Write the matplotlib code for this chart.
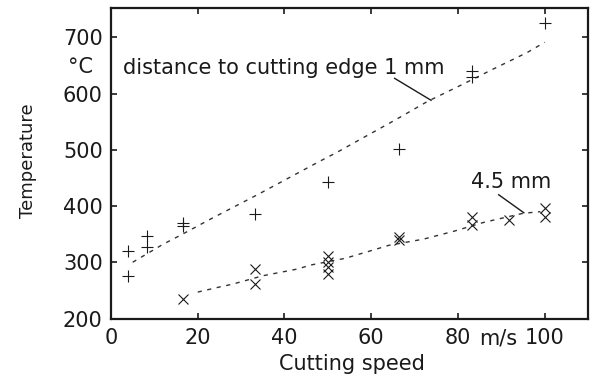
import matplotlib
matplotlib.use("Agg")
import matplotlib.pyplot as plt

plt.rcParams['font.family'] = ['DejaVu Sans']

# Measured temperatures, 1 mm from the cutting edge
speed_1mm = [4, 4, 8.3, 8.3, 16.6, 16.6, 33.3, 50, 66.5, 83.3, 83.3, 100]
temp_1mm = [320, 275, 346, 327, 370, 364, 385, 442, 502, 640, 630, 725]

# Measured temperatures, 4.5 mm from the cutting edge
speed_45mm = [16.6, 33.3, 33.3, 50, 50, 50, 50, 66.5, 66.5, 83.3, 83.3, 91.7, 100, 100]
temp_45mm = [234, 288, 262, 312, 300, 291, 280, 345, 339, 380, 366, 376, 396, 381]

# Trend curves
trend_1mm_x = [5, 12, 16, 23, 30, 34, 41, 48, 52, 66, 73, 81, 88, 96, 100]
trend_1mm_y = [300, 332, 348, 377, 405, 421, 450, 479, 495, 555, 586, 616, 643, 673, 691]
trend_45mm_x = [20, 25, 28, 35, 43, 46, 54, 61, 64, 72, 79, 86, 95, 99]
trend_45mm_y = [247, 256, 261, 276, 288, 295, 307, 323, 330, 341, 355, 371, 387, 390]

x_ticks = [0, 20, 40, 60, 80, 100]
y_ticks = [200, 300, 400, 500, 600, 700]

FS = 15
INK = '#1a1a1a'

fig = plt.figure(figsize=(5.93, 3.82), dpi=100)
ax = fig.add_axes([0.1872, 0.1662, 0.8044, 0.8128])

ax.plot(trend_1mm_x, trend_1mm_y, color='#333333', lw=1.0, ls=(0, (3, 4)))
ax.plot(trend_45mm_x, trend_45mm_y, color='#333333', lw=1.0, ls=(0, (3, 4)))
ax.plot(speed_1mm, temp_1mm, ls='none', marker='+', ms=9, mew=0.8, color=INK)
ax.plot(speed_45mm, temp_45mm, ls='none', marker='x', ms=7, mew=0.8, color=INK)

ax.set_xlim(0, 110)
ax.set_ylim(200, 752)
ax.set_xticks(x_ticks)
ax.set_yticks(y_ticks)
ax.set_xticklabels([str(v) for v in x_ticks])
ax.set_yticklabels([str(v) for v in y_ticks])
ax.tick_params(direction='in', length=4, width=1.2, labelsize=FS,
               top=True, right=True, color=INK, labelcolor=INK)
ax.tick_params(axis='y', pad=6)
ax.tick_params(axis='x', pad=7)
for s in ax.spines.values():
    s.set_linewidth(1.6)
    s.set_color(INK)

ax.set_xlabel('Cutting speed', fontsize=FS, color=INK)
ax.xaxis.set_label_coords(0.505, -0.115)
ax.set_ylabel('Temperature', fontsize=13, color=INK)
ax.yaxis.set_label_coords(-0.155, 0.507)

# Units next to the tick labels, sharing their baseline
fig.canvas.draw()
tick_baseline = ax.get_xticklabels()[0].get_window_extent().y0
ax.text(89.2, 0, 'm/s', fontsize=FS, ha='center', va='bottom', color=INK,
        clip_on=False,
        transform=ax.get_xaxis_transform()).set_y(
            ax.transAxes.inverted().transform((0, tick_baseline))[1])
ax.text(-4.1, 636, '°C', fontsize=FS, ha='right', va='baseline', color=INK,
        clip_on=False)

# Curve labels with leader lines
ax.text(2.7, 634, 'distance to cutting edge 1 mm', fontsize=FS, ha='left',
        va='baseline', color=INK)
ax.plot([65.4, 73.8], [627, 588], color=INK, lw=1.0)
ax.text(83, 432, '4.5 mm', fontsize=FS, ha='left', va='baseline', color=INK)
ax.plot([89.4, 95.2], [420, 388], color=INK, lw=1.0)

fig.savefig('out.png', dpi=100)
